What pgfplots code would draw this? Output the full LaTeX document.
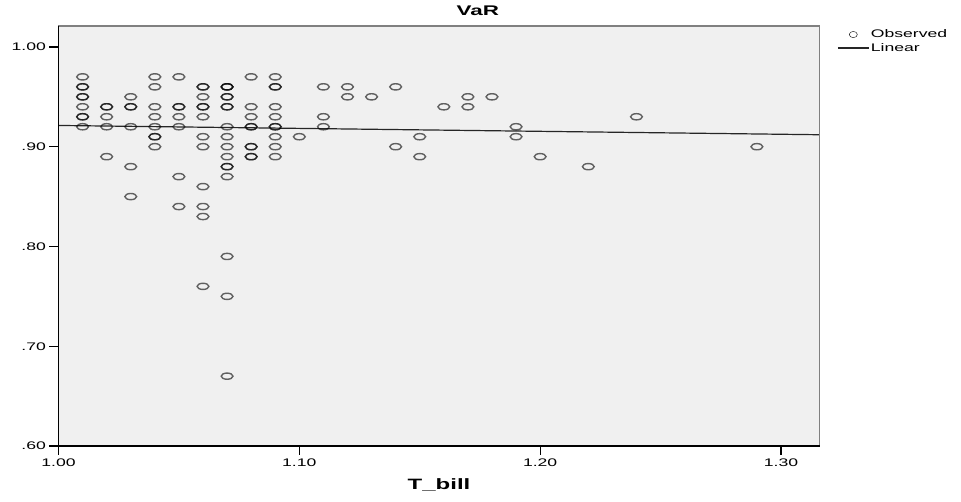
\documentclass[border=0pt]{standalone}
\usepackage{fontspec}
\setmainfont{Liberation Sans}[FakeStretch=1.6]
\usepackage{pgfplots}
\pgfplotsset{compat=1.18}
\definecolor{plotbg}{RGB}{240,240,240}
\definecolor{framegray}{RGB}{128,128,128}
\pgfplotsset{
  obs legend/.style={legend image code/.code={%
    \draw[mark repeat=2, mark phase=2, ##1, mark options={xscale=1.3}]
      plot coordinates {(0pt,0pt) (15.5pt,0pt) (31pt,0pt)};}},
  lin legend/.style={legend image code/.code={%
    \draw[##1] (0pt,0pt) -- (31pt,0pt);}},
}

\begin{document}
\begin{tikzpicture}
\begin{axis}[
  scale only axis,
  width=761pt,
  height=420pt,
  xmin=1.0, xmax=1.316,
  ymin=0.6, ymax=1.021,
  axis background/.style={fill=plotbg},
  axis line style={draw=none},
  tick pos=left,
  tick align=outside,
  major tick length=9pt,
  tick style={black, line width=1.2pt},
  xtick={1.0,1.1,1.2,1.3},
  xticklabels={1.00,1.10,1.20,1.30},
  ytick={0.6,0.7,0.8,0.9,1.0},
  yticklabels={.60,.70,.80,.90,1.00},
  ticklabel style={font=\fontsize{11}{13}\selectfont},
  xlabel={\bfseries T\_bill},
  xlabel style={font=\fontsize{15}{17}\selectfont, at={(axis description cs:0.5,0)}, anchor=base, yshift=-44pt},
  title={\bfseries VaR},
  title style={font=\fontsize{14}{16}\selectfont, at={(axis description cs:0.551,1)}, anchor=base, yshift=4pt},
  legend style={at={(axis description cs:1.023,0.995)}, anchor=north west, draw=none, fill=none,
    inner sep=0pt, row sep=1pt, font=\fontsize{11}{13}\selectfont,
    nodes={inner sep=1.5pt, anchor=west}},
  legend cell align=left,
  clip=false,
]
\addplot[only marks, mark=o, mark size=3.1pt,
  mark options={xscale=1.9, line width=1.4pt, draw=black, draw opacity=0.6},
  obs legend]
coordinates {
(1.01,0.97) (1.01,0.96) (1.01,0.96) (1.01,0.95) (1.01,0.95) (1.01,0.94)
(1.01,0.93) (1.01,0.93) (1.01,0.92)
(1.02,0.94) (1.02,0.94) (1.02,0.93) (1.02,0.92) (1.02,0.89)
(1.03,0.95) (1.03,0.94) (1.03,0.94) (1.03,0.92) (1.03,0.88) (1.03,0.85)
(1.04,0.97) (1.04,0.96) (1.04,0.94) (1.04,0.93) (1.04,0.92) (1.04,0.91)
(1.04,0.91) (1.04,0.90)
(1.05,0.97) (1.05,0.94) (1.05,0.94) (1.05,0.93) (1.05,0.92) (1.05,0.87)
(1.05,0.84)
(1.06,0.96) (1.06,0.96) (1.06,0.95) (1.06,0.94) (1.06,0.94) (1.06,0.93)
(1.06,0.91) (1.06,0.90) (1.06,0.86) (1.06,0.84) (1.06,0.83) (1.06,0.76)
(1.07,0.96) (1.07,0.96) (1.07,0.96) (1.07,0.95) (1.07,0.95) (1.07,0.94)
(1.07,0.94) (1.07,0.92) (1.07,0.91) (1.07,0.90) (1.07,0.89) (1.07,0.88)
(1.07,0.88) (1.07,0.87) (1.07,0.79) (1.07,0.75) (1.07,0.67)
(1.08,0.97) (1.08,0.94) (1.08,0.93) (1.08,0.92) (1.08,0.92) (1.08,0.90)
(1.08,0.90) (1.08,0.89) (1.08,0.89)
(1.09,0.97) (1.09,0.96) (1.09,0.96) (1.09,0.94) (1.09,0.93) (1.09,0.92)
(1.09,0.92) (1.09,0.91) (1.09,0.90) (1.09,0.89)
(1.10,0.91)
(1.11,0.96) (1.11,0.93) (1.11,0.92)
(1.12,0.96) (1.12,0.95)
(1.13,0.95)
(1.14,0.96) (1.14,0.90)
(1.15,0.91) (1.15,0.89)
(1.16,0.94)
(1.17,0.95) (1.17,0.94)
(1.18,0.95)
(1.19,0.92) (1.19,0.91)
(1.20,0.89)
(1.22,0.88)
(1.24,0.93)
(1.29,0.90)
};
\addlegendentry{Observed}
\addplot[black!85, line width=1.2pt, lin legend]
coordinates {(1.0,0.9213) (1.316,0.912)};
\addlegendentry{Linear}

% frame: dark left and bottom, gray top and right
\draw[framegray, line width=1.6pt] (rel axis cs:0,1) -- (rel axis cs:1,1) -- (rel axis cs:1,0);
\draw[black, line width=1.4pt] (rel axis cs:0,1) -- (rel axis cs:0,0) -- (rel axis cs:1,0);
\end{axis}
\pgfresetboundingbox
\path[use as bounding box] (-58.5pt,-56pt) rectangle (902.5pt,446pt);
\end{tikzpicture}
\end{document}
